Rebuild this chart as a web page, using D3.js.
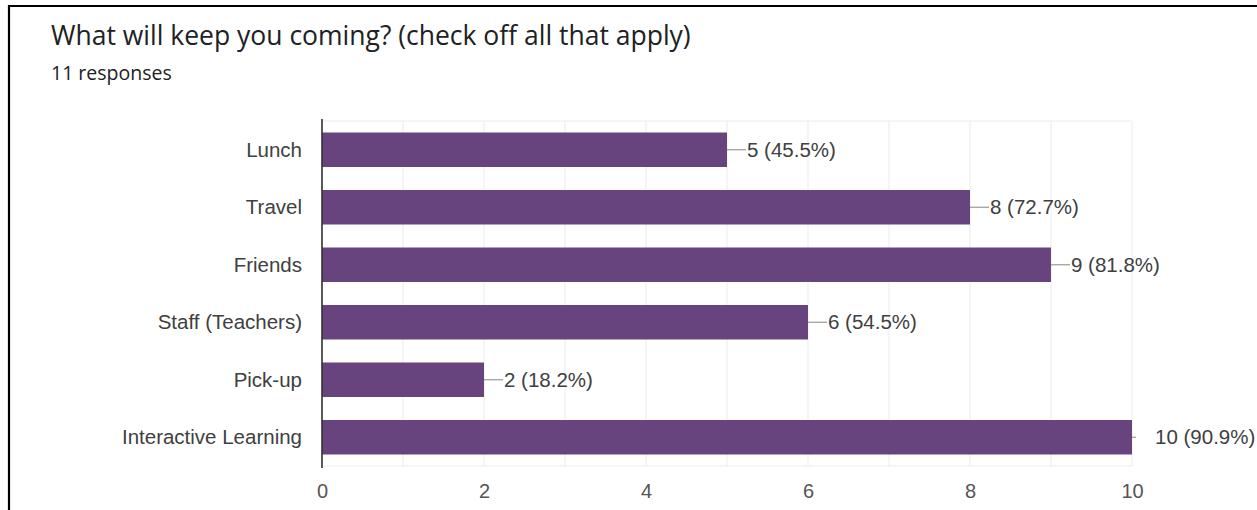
<!DOCTYPE html>
<html>
<head>
<meta charset="utf-8">
<script src="https://cdn.jsdelivr.net/npm/d3@7"></script>
<style>
  html, body { margin: 0; padding: 0; background: #fff; }
  svg { display: block; font-family: "Liberation Sans", Arial, sans-serif; }
</style>
</head>
<body>
<svg id="chart" width="1257" height="510"></svg>
<script>
const titleText = "What will keep you coming? (check off all that apply)";
const subtitleText = "11 responses";
const categories = ["Lunch", "Travel", "Friends", "Staff (Teachers)", "Pick-up", "Interactive Learning"];
const counts = [5, 8, 9, 6, 2, 10];
const percents = ["45.5%", "72.7%", "81.8%", "54.5%", "18.2%", "90.9%"];
const tickValues = [0, 2, 4, 6, 8, 10];
const gridValues = [0, 1, 2, 3, 4, 5, 6, 7, 8, 9, 10];

const svg = d3.select("#chart");

// frame
svg.append("line").attr("x1", 9).attr("x2", 1257).attr("y1", 6).attr("y2", 6)
  .attr("stroke", "#000").attr("stroke-width", 2.2);
svg.append("line").attr("x1", 9).attr("x2", 9).attr("y1", 5).attr("y2", 510)
  .attr("stroke", "#000").attr("stroke-width", 2.2);

svg.append("text").attr("x", 51).attr("y", 45).attr("font-size", 26.5)
  .attr("font-family", "'Open Sans', sans-serif")
  .attr("fill", "#202124").text(titleText);
svg.append("text").attr("x", 51).attr("y", 80).attr("font-size", 19.5)
  .attr("font-family", "'Open Sans', sans-serif")
  .attr("fill", "#202124").text(subtitleText);

const x = d3.scaleLinear().domain([0, 10]).range([322, 1132]);
const y = d3.scaleBand().domain(categories).range([121, 466]).paddingInner(0.4).paddingOuter(0.2);

// grid
svg.append("g").selectAll("line").data(gridValues).join("line")
  .attr("x1", d => x(d)).attr("x2", d => x(d))
  .attr("y1", 121).attr("y2", 466)
  .attr("stroke", "#ebebeb").attr("stroke-width", 1);
svg.append("line").attr("x1", x(0)).attr("x2", x(10)).attr("y1", 121).attr("y2", 121)
  .attr("stroke", "#ebebeb");
svg.append("line").attr("x1", x(0)).attr("x2", x(10)).attr("y1", 466).attr("y2", 466)
  .attr("stroke", "#ebebeb");

// bars
svg.append("g").selectAll("rect").data(categories).join("rect")
  .attr("x", x(0))
  .attr("y", d => y(d))
  .attr("width", (d, i) => x(counts[i]) - x(0))
  .attr("height", y.bandwidth())
  .attr("fill", "#68447f");

// axis line
svg.append("line").attr("x1", x(0)).attr("x2", x(0)).attr("y1", 119).attr("y2", 468)
  .attr("stroke", "#333").attr("stroke-width", 1.6);

// category labels
svg.append("g").selectAll("text").data(categories).join("text")
  .attr("x", 302)
  .attr("y", d => y(d) + y.bandwidth() / 2)
  .attr("dy", "0.35em")
  .attr("text-anchor", "end")
  .attr("font-size", 20.5)
  .attr("fill", "#404040")
  .text(d => d);

// value annotations
const ann = svg.append("g");
categories.forEach((c, i) => {
  const xe = x(counts[i]);
  const cy = y(c) + y.bandwidth() / 2;
  const last = counts[i] === 10;
  const stemLen = last ? 4 : 19;
  ann.append("line").attr("x1", xe).attr("x2", xe + stemLen).attr("y1", cy).attr("y2", cy)
    .attr("stroke", "#999").attr("stroke-width", 1.2);
  ann.append("text")
    .attr("x", last ? xe + 23 : xe + 20)
    .attr("y", cy)
    .attr("dy", "0.35em")
    .attr("font-size", 20.5)
    .attr("fill", "#404040")
    .text(`${counts[i]} (${percents[i]})`);
});

// x tick labels
const xAxis = d3.axisBottom(x).tickValues(tickValues).tickSize(0).tickPadding(0);
const gx = svg.append("g").attr("transform", "translate(0,491)").call(xAxis);
gx.select(".domain").remove();
gx.selectAll("text").attr("font-size", 20).attr("fill", "#555")
  .attr("font-family", "'Liberation Sans', Arial, sans-serif").attr("dy", "0.35em").attr("y", 0);
</script>
</body>
</html>
